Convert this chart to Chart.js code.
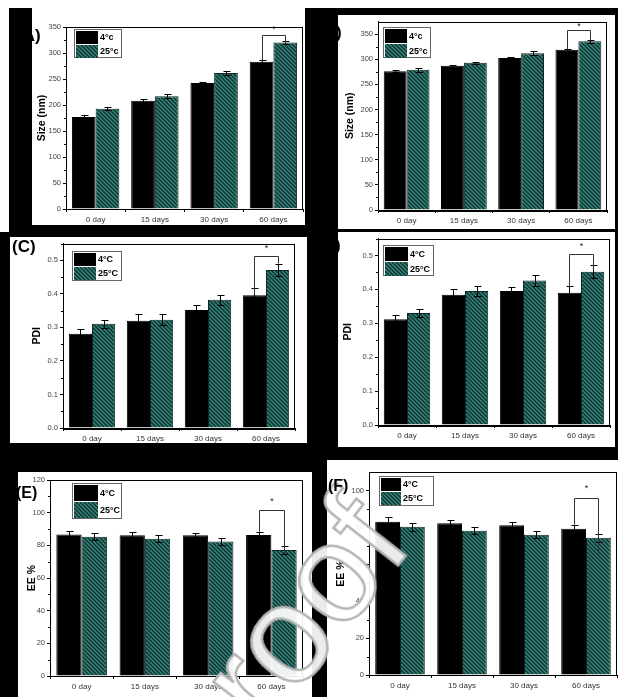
<!DOCTYPE html>
<html>
<head>
<meta charset="utf-8">
<script src="https://cdn.jsdelivr.net/npm/chart.js@4.4.0/dist/chart.umd.min.js"></script>
<style>
  html, body { margin: 0; padding: 0; background: #000; }
  #stage { position: relative; width: 618px; height: 697px; background: #000; overflow: hidden; }
  .white { position: absolute; background: #fff; }
  .panel { position: absolute; background: #fff; overflow: hidden; }
  .panel canvas { position: absolute; left: 0; top: 0; }
  .tag { position: absolute; font: bold 17px "Liberation Sans", Arial, sans-serif; color: #000; line-height: 1; white-space: nowrap; }
  #wm { position: absolute; left: 218px; top: 678px; font: 140px/140px "Liberation Sans", Arial, sans-serif;
        color: rgba(255,255,255,0.92); -webkit-text-stroke: 2.5px #b4b4b4; transform: rotate(-52deg);
        transform-origin: 0 118px; white-space: nowrap; pointer-events: none; }
</style>
</head>
<body>
<div id="stage">
  <div class="white" style="left:0;top:0;width:618px;height:8px"></div>
  <div class="white" style="left:0;top:0;width:9px;height:232px"></div>
</div>
<script>
// Storage time points shared by every panel
const days = ['0 day', '15 days', '30 days', '60 days'];

// (A) particle size, nm
const namesA = ['4°c', '25°c'];
const sizeA4 = [177, 208, 242.5, 283];
const sizeA25 = [193, 217, 261.5, 320];
const sizeA4Err = [3, 3, 2, 3];
const sizeA25Err = [3, 4, 3, 3];
const bracketA = [283, 335, 320, 346];   // left leg end, bar height, right leg end, star

// (B) particle size, nm
const namesB = ['4°c', '25°c'];
const sizeB4 = [276, 287, 302.5, 319];
const sizeB25 = [279, 293, 312, 335.5];
const sizeB4Err = [2, 2, 2, 2];
const sizeB25Err = [4, 2, 4, 3];
const bracketB = [319, 358, 337, 365];

// (C) polydispersity index
const namesC = ['4°C', '25°C'];
const pdiC4 = [0.281, 0.320, 0.352, 0.396];
const pdiC25 = [0.311, 0.323, 0.382, 0.471];
const pdiC4Err = [0.013, 0.020, 0.014, 0.020];
const pdiC25Err = [0.012, 0.017, 0.015, 0.019];
const bracketC = [0.397, 0.512, 0.490, 0.535];

// (D) polydispersity index
const namesD = ['4°C', '25°C'];
const pdiD4 = [0.312, 0.384, 0.395, 0.390];
const pdiD25 = [0.330, 0.395, 0.426, 0.452];
const pdiD4Err = [0.013, 0.018, 0.013, 0.020];
const pdiD25Err = [0.012, 0.016, 0.015, 0.019];
const bracketD = [0.410, 0.503, 0.452, 0.525];

// (E) entrapment efficiency, %
const namesE = ['4°C', '25°C'];
const eeE4 = [86.7, 86.1, 86.1, 86.3];
const eeE25 = [85.3, 84.1, 82.4, 77.1];
const eeE4Err = [2.3, 2.3, 1.6, 2.1];
const eeE25Err = [2.0, 2.0, 1.9, 2.3];
const bracketE = [88.4, 101.6, 75, 107];

// (F) entrapment efficiency, %
const namesF = ['4°C', '25°C'];
const eeF4 = [83.1, 82.2, 81.1, 79.3];
const eeF25 = [80.4, 78.2, 76.0, 74.4];
const eeF4Err = [2.5, 1.9, 1.8, 2.1];
const eeF25Err = [2.1, 2.0, 2.0, 2.2];
const bracketF = [81.4, 95.9, 64, 101];

Chart.defaults.font.family = '"Liberation Sans", Arial, sans-serif';
Chart.defaults.color = '#333';

// diagonal hatch tile for the 25 °C bars
function hatchTile() {
  const c = document.createElement('canvas');
  c.width = 4; c.height = 4;
  const g = c.getContext('2d');
  g.fillStyle = '#3d9188';
  g.fillRect(0, 0, 4, 4);
  g.strokeStyle = '#113835';
  g.lineWidth = 1.6;
  g.beginPath();
  g.moveTo(-1, -1); g.lineTo(5, 5);
  g.moveTo(-1, 3); g.lineTo(1, 5);
  g.moveTo(3, -1); g.lineTo(5, 1);
  g.stroke();
  return c;
}

// closed plot frame plus minor ticks on the value axis
const framePlugin = {
  id: 'frame',
  afterDraw(chart) {
    const { ctx, chartArea: a, scales: { y } } = chart;
    const step = chart.options.scales.y.ticks.stepSize;
    ctx.save();
    ctx.strokeStyle = '#000';
    ctx.lineWidth = 1;
    ctx.strokeRect(Math.round(a.left) + 0.5, Math.round(a.top) + 0.5,
                   Math.round(a.right - a.left) - 1, Math.round(a.bottom - a.top));
    ctx.beginPath();
    for (let v = step / 2; v < y.max; v += step) {
      const py = Math.round(y.getPixelForValue(v)) + 0.5;
      ctx.moveTo(a.left, py); ctx.lineTo(a.left - 2, py);
    }
    ctx.stroke();
    ctx.restore();
  }
};

// standard-deviation whiskers from each dataset's errors array
const errorBars = {
  id: 'errorBars',
  afterDatasetsDraw(chart) {
    const { ctx, scales: { y } } = chart;
    ctx.save();
    ctx.strokeStyle = '#000';
    ctx.lineWidth = 1;
    chart.data.datasets.forEach((ds, di) => {
      chart.getDatasetMeta(di).data.forEach((bar, i) => {
        const v = ds.data[i], e = ds.errors[i];
        const x = Math.round(bar.x) + 0.5;
        const yt = Math.round(y.getPixelForValue(v + e)) + 0.5;
        const yb = Math.round(y.getPixelForValue(v - e)) + 0.5;
        ctx.beginPath();
        ctx.moveTo(x, yt); ctx.lineTo(x, yb);
        ctx.moveTo(x - 3, yt); ctx.lineTo(x + 4, yt);
        ctx.moveTo(x - 3, yb); ctx.lineTo(x + 4, yb);
        ctx.stroke();
      });
    });
    ctx.restore();
  }
};

// significance bracket with asterisk over one group
const bracketPlugin = {
  id: 'bracket',
  afterDatasetsDraw(chart, args, o) {
    const { ctx, scales: { y } } = chart;
    const xa = Math.round(chart.getDatasetMeta(0).data[o.index].x) + 0.5;
    const xb = Math.round(chart.getDatasetMeta(1).data[o.index].x) + 0.5;
    const [vL, vTop, vR, vStar] = o.values;
    const yTop = Math.round(y.getPixelForValue(vTop)) + 0.5;
    ctx.save();
    ctx.strokeStyle = '#333';
    ctx.lineWidth = 1;
    ctx.beginPath();
    ctx.moveTo(xa, y.getPixelForValue(vL));
    ctx.lineTo(xa, yTop);
    ctx.lineTo(xb, yTop);
    ctx.lineTo(xb, y.getPixelForValue(vR));
    ctx.stroke();
    ctx.fillStyle = '#222';
    ctx.font = '9px "Liberation Sans", Arial, sans-serif';
    ctx.textAlign = 'center';
    ctx.textBaseline = 'middle';
    ctx.fillText('*', (xa + xb) / 2, y.getPixelForValue(vStar));
    ctx.restore();
  }
};

// boxed legend sitting inside the plot area
const boxLegend = {
  id: 'boxLegend',
  afterDraw(chart, args, o) {
    const { ctx, chartArea: a } = chart;
    const x = Math.round(a.left + o.dx), y = Math.round(a.top + o.dy);
    ctx.save();
    ctx.fillStyle = '#fff';
    ctx.fillRect(x, y, o.w, o.h);
    ctx.strokeStyle = '#666';
    ctx.lineWidth = 1;
    ctx.strokeRect(x + 0.5, y + 0.5, o.w, o.h);
    const rowH = (o.h - 3) / 2;
    chart.data.datasets.forEach((ds, i) => {
      const sy = Math.round(y + 2 + i * (rowH + 1));
      ctx.fillStyle = ds.backgroundColor;
      ctx.fillRect(x + 2, sy, o.sw, Math.round(rowH));
      ctx.fillStyle = '#000';
      ctx.font = 'bold 9px "Liberation Sans", Arial, sans-serif';
      ctx.textBaseline = 'middle';
      ctx.fillText(ds.label, x + o.sw + 4, sy + rowH / 2 + 0.5);
    });
    ctx.restore();
  }
};

const stage = document.getElementById('stage');

function buildPanel(p) {
  const div = document.createElement('div');
  div.className = 'panel';
  div.style.left = p.rect.x + 'px';
  div.style.top = p.rect.y + 'px';
  div.style.width = p.rect.w + 'px';
  div.style.height = p.rect.h + 'px';
  const cv = document.createElement('canvas');
  cv.width = p.rect.w;
  cv.height = p.rect.h;
  div.appendChild(cv);
  stage.appendChild(div);

  const ctx = cv.getContext('2d');
  const hatch = ctx.createPattern(hatchTile(), 'repeat');
  const padTop = p.plot.t - p.rect.y;
  const padRight = p.rect.x + p.rect.w - p.plot.r;
  const yW = p.plot.l - p.rect.x;
  const xH = p.rect.y + p.rect.h - p.plot.b;
  const step = p.step;

  new Chart(ctx, {
    type: 'bar',
    data: {
      labels: days,
      datasets: [
        { label: p.names[0], data: p.cold, errors: p.coldErr,
          backgroundColor: '#000', borderColor: '#000', borderWidth: 1 },
        { label: p.names[1], data: p.warm, errors: p.warmErr,
          backgroundColor: hatch, borderColor: '#0b2725', borderWidth: 1 }
      ]
    },
    options: {
      responsive: false,
      animation: false,
      devicePixelRatio: 1,
      layout: { padding: { left: 0, top: padTop, right: padRight, bottom: 0 } },
      datasets: { bar: { categoryPercentage: 0.8, barPercentage: 1 } },
      plugins: {
        legend: { display: false },
        tooltip: { enabled: false },
        boxLegend: p.legend,
        bracket: { index: 3, values: p.bracket }
      },
      scales: {
        x: {
          afterFit: s => { s.height = xH; },
          grid: { offset: true, drawOnChartArea: false, color: '#000', tickLength: 3 },
          border: { color: '#000' },
          ticks: { color: '#333', font: { size: 8 }, padding: 3, maxRotation: 0, autoSkip: false }
        },
        y: {
          min: 0,
          max: p.max,
          afterFit: s => { s.width = yW; },
          afterBuildTicks: s => {
            s.ticks = s.ticks.filter(t => Math.abs(Math.round(t.value / step) * step - t.value) < 1e-9);
          },
          ticks: { stepSize: step, color: '#444', font: { size: 7.5 }, padding: 2,
                   callback: v => p.fmt(v) },
          grid: { drawOnChartArea: false, color: '#000', tickLength: 3 },
          border: { color: '#000' },
          title: { display: true, text: p.title, color: '#000',
                   font: { size: 10.5, weight: 'bold' },
                   padding: { top: p.titleX - p.rect.x - 6.3, bottom: 0 } }
        }
      }
    },
    plugins: [framePlugin, errorBars, bracketPlugin, boxLegend]
  });
}

const whole = v => String(Math.round(v));
const tenth = v => v.toFixed(1);

buildPanel({ rect: { x: 32, y: 0, w: 273, h: 225 }, plot: { l: 66, t: 27, r: 303, b: 209 },
  titleX: 42, title: 'Size (nm)', max: 350, step: 50, fmt: whole,
  names: namesA, cold: sizeA4, warm: sizeA25, coldErr: sizeA4Err, warmErr: sizeA25Err, bracket: bracketA,
  legend: { dx: 8, dy: 2, w: 47, h: 28, sw: 22 } });

buildPanel({ rect: { x: 338, y: 15, w: 277, h: 214 }, plot: { l: 378, t: 21, r: 607, b: 210 },
  titleX: 350, title: 'Size (nm)', max: 375, step: 50, fmt: whole,
  names: namesB, cold: sizeB4, warm: sizeB25, coldErr: sizeB4Err, warmErr: sizeB25Err, bracket: bracketB,
  legend: { dx: 5, dy: 5, w: 47, h: 30, sw: 22 } });

buildPanel({ rect: { x: 10, y: 237, w: 297, h: 206 }, plot: { l: 63, t: 240, r: 295, b: 428 },
  titleX: 37, title: 'PDI', max: 0.55, step: 0.1, fmt: tenth,
  names: namesC, cold: pdiC4, warm: pdiC25, coldErr: pdiC4Err, warmErr: pdiC25Err, bracket: bracketC,
  legend: { dx: 9, dy: 7, w: 49, h: 29, sw: 22 } });

buildPanel({ rect: { x: 338, y: 232, w: 277, h: 215 }, plot: { l: 378, t: 235, r: 610, b: 425 },
  titleX: 348, title: 'PDI', max: 0.55, step: 0.1, fmt: tenth,
  names: namesD, cold: pdiD4, warm: pdiD25, coldErr: pdiD4Err, warmErr: pdiD25Err, bracket: bracketD,
  legend: { dx: 5, dy: 6, w: 50, h: 30, sw: 23 } });

buildPanel({ rect: { x: 18, y: 472, w: 294, h: 225 }, plot: { l: 50, t: 480, r: 303, b: 676 },
  titleX: 32, title: 'EE %', max: 120, step: 20, fmt: whole,
  names: namesE, cold: eeE4, warm: eeE25, coldErr: eeE4Err, warmErr: eeE25Err, bracket: bracketE,
  legend: { dx: 22, dy: 3, w: 49, h: 35, sw: 24 } });

buildPanel({ rect: { x: 327, y: 460, w: 291, h: 237 }, plot: { l: 369, t: 472, r: 617, b: 675 },
  titleX: 341, title: 'EE %', max: 110, step: 20, fmt: whole,
  names: namesF, cold: eeF4, warm: eeF25, coldErr: eeF4Err, warmErr: eeF25Err, bracket: bracketF,
  legend: { dx: 10, dy: 4, w: 54, h: 29, sw: 20 } });

// diagonal proof watermark across the lower panels
const wm = document.createElement('div');
wm.id = 'wm';
wm.textContent = 'proof';
stage.appendChild(wm);

// panel letters on top (parts that fall on the black gutters stay unseen)
[['(A)', 17, 27], ['(B)', 318, 24], ['(C)', 12, 238], ['(D)', 317, 237], ['(E)', 16, 485], ['(F)', 328, 478]]
  .forEach(([t, x, y]) => {
    const d = document.createElement('div');
    d.className = 'tag';
    d.textContent = t;
    d.style.left = x + 'px';
    d.style.top = y + 'px';
    if (t === '(E)' || t === '(F)') d.style.fontSize = '16px';
    stage.appendChild(d);
  });
</script>
</body>
</html>
